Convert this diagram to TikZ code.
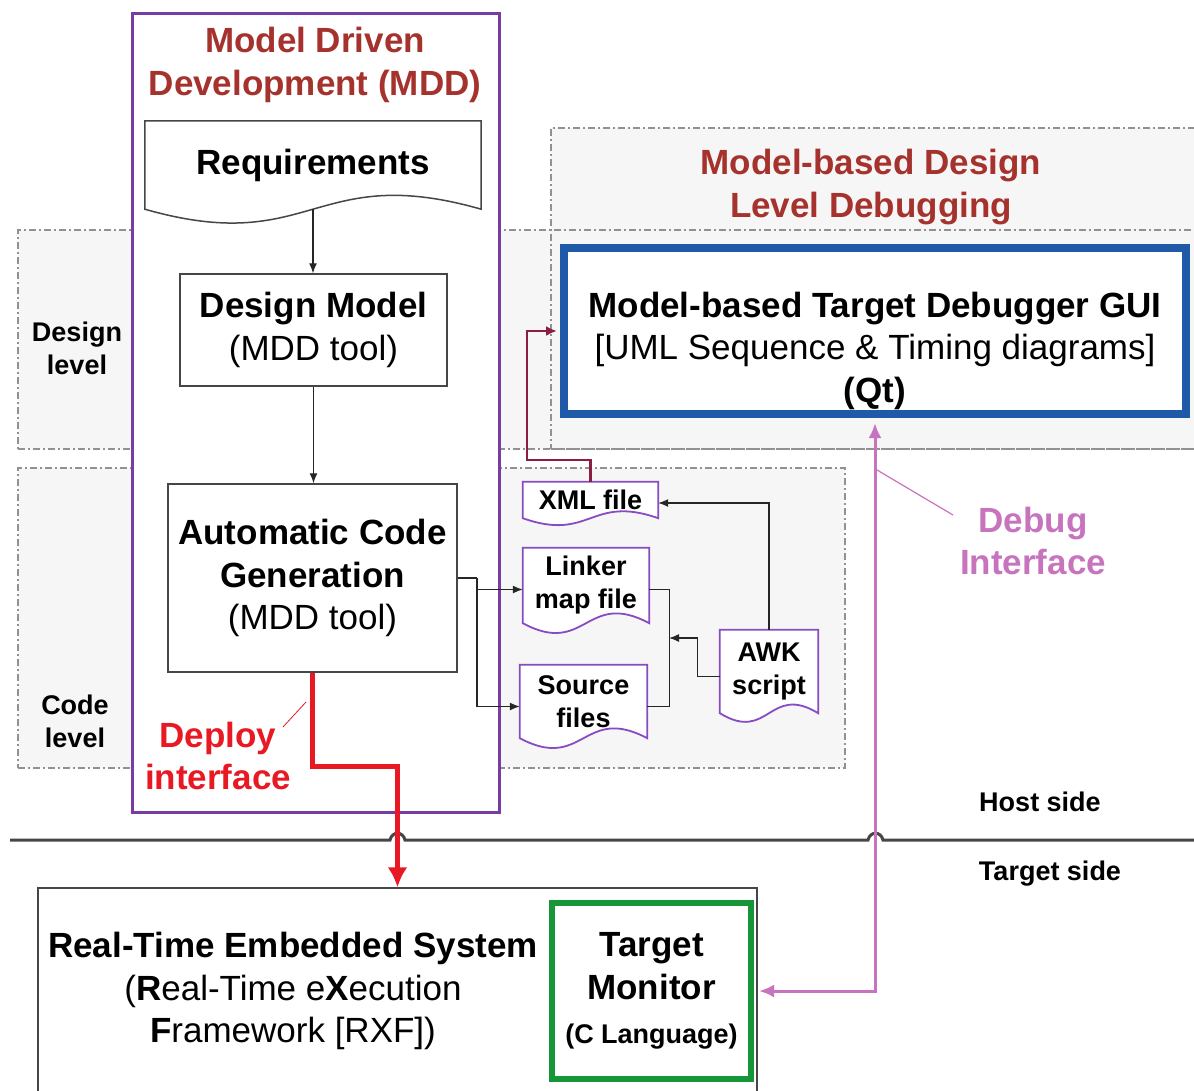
\documentclass[tikz,border=0pt]{standalone}
\usepackage{fontspec}
\setmainfont{Liberation Sans}
\usetikzlibrary{arrows.meta,calc}
\definecolor{mddpurple}{RGB}{120,60,165}
\definecolor{titlered}{RGB}{165,50,45}
\definecolor{lvlgray}{RGB}{145,145,145}
\definecolor{lvlfill}{RGB}{246,246,246}
\definecolor{boxgray}{RGB}{70,70,70}
\definecolor{guiblue}{RGB}{30,90,168}
\definecolor{tmgreen}{RGB}{22,150,55}
\definecolor{deployred}{RGB}{232,25,35}
\definecolor{debugpink}{RGB}{200,115,190}
\definecolor{xmlmaroon}{RGB}{140,30,70}
\definecolor{docpurple}{RGB}{135,75,195}
\newcommand\FontBig{\fontsize{35}{42.5}\selectfont}
\newcommand\FontSmall{\fontsize{27}{33}\selectfont}
\newcommand\DocShape[3][docline]{\filldraw[#1] (#2.south west) -- (#2.north west) -- (#2.north east) -- (#2.south east) .. controls ($(#2.south)+(0,-#3)$) and ($(#2.south)+(0,#3)$) .. (#2.south west) -- cycle;}
\pgfdeclarelayer{lvl}
\pgfdeclarelayer{docs}
\pgfsetlayers{lvl,docs,main}
\tikzset{
  lvlbox/.style={draw=lvlgray, line width=1.3pt, dash pattern=on 7pt off 3pt on 2pt off 3pt, inner sep=0pt},
  blk/.style={draw=boxgray, line width=1.5pt, fill=white, inner sep=0pt, align=center, font=\FontBig},
  docnode/.style={inner sep=0pt, align=center, font=\FontSmall\bfseries},
  docline/.style={draw=docpurple, line width=1.8pt, fill=white},
  reqline/.style={draw=boxgray, line width=1.5pt, fill=white},
  conn/.style={line width=1.3pt, draw=black!85, -{Latex[length=10pt,width=8pt]}},
  plainconn/.style={line width=1.3pt, draw=black!85},
  titletext/.style={font=\FontBig\bfseries, text=titlered, align=center},
  lbl/.style={font=\FontSmall\bfseries, align=center},
  deployline/.style={draw=deployred, line width=5pt, -{Latex[length=20pt,width=20pt]}},
  debugline/.style={draw=debugpink, line width=3pt},
  xmlline/.style={draw=xmlmaroon, line width=2.3pt, -{Latex[length=11pt,width=10pt]}},
  sepline/.style={draw=boxgray, line width=3pt}
}
\begin{document}
\begin{tikzpicture}[x=1pt,y=-1pt]
\useasboundingbox (0,0) rectangle (1194,1090);

% ---------- level areas ----------
\begin{pgfonlayer}{lvl}
\fill[lvlfill] (18,230) rectangle (1200,449);
\fill[lvlfill] (551,128) rectangle (1200,449);
\fill[lvlfill] (18,468) rectangle (845,768);
\node[lvlbox, minimum width=1182pt, minimum height=219pt] (dlevel) at (609,339.5) {};
\node[lvlbox, minimum width=649pt, minimum height=321pt] (dbgarea) at (875.5,288.5) {};
\node[lvlbox, minimum width=827pt, minimum height=300pt] (clevel) at (431.5,618) {};
\node[draw=mddpurple, line width=3pt, fill=white, inner sep=0pt, minimum width=367pt, minimum height=799pt] (mdd) at (315.5,412.5) {};
\end{pgfonlayer}

% ---------- titles and labels ----------
\node[titletext] (mddtitle) at (315,65) {Model Driven\\Development (MDD)};
\node[titletext] (dbgtitle) at (871,187) {Model-based Design\\Level Debugging};
\node[lbl] (dlvl) at (77,348) {Design\\level};
\node[lbl] (clvl) at (75,721) {Code\\level};
\node[lbl] (host) at (1040,802) {Host side};
\node[lbl] (target) at (1050,874) {Target side};

% ---------- MDD flow ----------
\node[inner sep=0pt, minimum width=336pt, minimum height=88pt, font=\FontBig\bfseries] (req) at (313,165) {Requirements};
\node[blk, minimum width=267pt, minimum height=112pt] (dm) at (313.5,330) {\textbf{Design Model}\\(MDD tool)};
\node[blk, minimum width=289pt, minimum height=188pt] (acg) at (312.5,578) {\textbf{Automatic Code}\\\textbf{Generation}\\(MDD tool)};

% ---------- files ----------
\node[docnode, minimum width=135pt, minimum height=36pt] (xml) at (590.5,500) {XML file};
\node[docnode, minimum width=126pt, minimum height=75pt] (lnk) at (586,585.5) {Linker\\map file};
\node[docnode, minimum width=127pt, minimum height=73pt] (src) at (583.5,701.5) {Source\\files};
\node[docnode, minimum width=98pt, minimum height=83pt] (awk) at (769,671.5) {AWK\\script};
\begin{pgfonlayer}{docs}
\DocShape[reqline]{req}{48}
\DocShape{xml}{24}
\DocShape{lnk}{34}
\DocShape{src}{34}
\DocShape{awk}{30}
\end{pgfonlayer}

% ---------- debugger GUI ----------
\node[draw=guiblue, line width=8pt, fill=white, inner sep=0pt, minimum width=622pt, minimum height=166pt, align=center, font=\FontBig] (gui) at (875,331)
  {\rule{0pt}{65pt}\textbf{Model-based Target Debugger GUI}\\{}[UML Sequence \& Timing diagrams]\\\textbf{(Qt)}};

% ---------- target ----------
\node[draw=boxgray, line width=1.5pt, inner sep=0pt, minimum width=719pt, minimum height=220pt] (rtes) at (397.5,998) {};
\node[font=\FontBig, align=center] (rtestext) at (293,991) {\textbf{Real-Time Embedded System}\\(\textbf{R}eal-Time e\textbf{X}ecution\\\textbf{F}ramework [RXF])};
\node[draw=tmgreen, line width=6pt, fill=white, inner sep=0pt, minimum width=199pt, minimum height=176pt, align=center, font=\FontBig\bfseries] (tm) at (651.5,991)
  {Target\\Monitor\\[2pt]{\FontSmall (C Language)}};

% ---------- host / target separation ----------
\draw[sepline] (10,840) -- (390,840) .. controls (392,831) and (403,831) .. (405,840) -- (868,840) .. controls (870,831) and (881,831) .. (883,840) -- (1200,840);

% ---------- connectors ----------
\draw[conn] (req.south) -- (req.south |- dm.north);
\draw[conn] (dm.south) -- (dm.south |- acg.north);
\coordinate (fork) at (477,578);
\draw[plainconn] (acg.east) -- (fork);
\draw[conn] (fork) |- ($(lnk.west)+(0,4)$);
\draw[conn] (fork) |- ($(src.west)+(0,5)$);
\draw[plainconn] ($(lnk.east)+(0,4)$) -- ++(20,0) |- ($(src.east)+(0,5)$);
\coordinate (brk) at (669,638);
\draw[conn] ($(awk.west)+(0,5)$) -- ++(-22,0) |- (brk);
\draw[conn] (awk.north) |- ($(xml.east)+(0,3)$);
\coordinate (xmlbend) at (527,460);
\draw[xmlline, shorten >=3pt] (xml.north) |- (xmlbend) |- (gui.west);

\draw[deployline] (acg.south) -- ++(0,94) -| (rtes.north);
\node[font=\FontBig\bfseries, text=deployred, align=center] (deploylbl) at (218,756) {Deploy\\interface};
\coordinate (dp1) at (283,727);
\coordinate (dp2) at (306,702);
\draw[deployred, line width=0.8pt] (dp1) -- (dp2);

\draw[debugline, {Latex[length=15pt,width=13pt]}-{Latex[length=15pt,width=13pt]}, shorten <=5pt, shorten >=5pt] (tm.east) -| (gui.south);
\node[font=\FontBig\bfseries, text=debugpink, align=center] (dbglbl) at (1033,541) {Debug\\Interface};
\coordinate (db1) at (953,515);
\coordinate (db2) at (877,470);
\draw[debugpink, line width=1.2pt] (db1) -- (db2);
\end{tikzpicture}
\end{document}
